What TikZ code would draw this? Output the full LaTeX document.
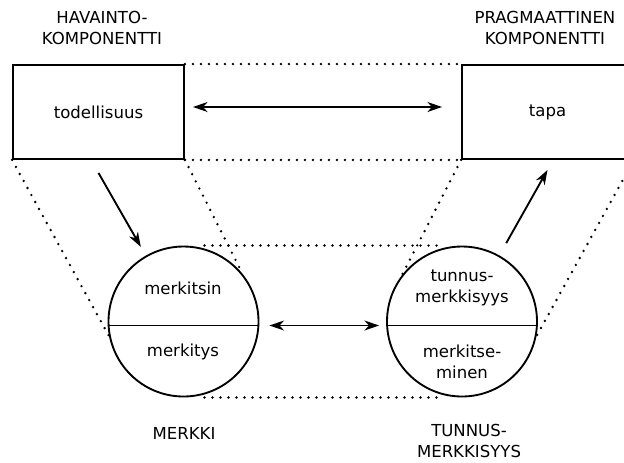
\documentclass[tikz,border=0pt]{standalone}
\usepackage{fontspec}
\setmainfont{DejaVu Sans}
\usetikzlibrary{arrows.meta,positioning}

\begin{document}
\begin{tikzpicture}[
    x=0.75pt, y=-0.75pt,
    font=\fontsize{12.4}{16.2}\selectfont,
    block/.style={rectangle, draw, line width=1.4pt, minimum width=128.25pt, minimum height=70.5pt, inner sep=0pt},
    disc/.style={circle, draw, line width=1.4pt, minimum size=112.5pt, inner sep=0pt},
    caption/.style={align=center, inner sep=0pt},
    arrow/.style={-{Stealth[length=11pt,width=7.5pt,inset=3.5pt]}, line width=1.4pt},
    twoway/.style={{Stealth[length=11pt,width=7.5pt,inset=3.5pt]}-{Stealth[length=11pt,width=7.5pt,inset=3.5pt]}, line width=1.4pt},
    dots/.style={line width=2pt, line cap=round, dash pattern=on 0pt off 6pt}
]
    \useasboundingbox (0,0) rectangle (624,462);

    % Nodes
    \node[block] (real) at (98.5,112) {todellisuus};
    \node[block] (way) at (547.5,112) {tapa};
    \node[disc] (sign) at (183.5,321.5) {};
    \node[disc] (token) at (462,321.5) {};
    \draw[line width=1.4pt] (sign.183) -- (sign.-3);
    \draw[line width=1.4pt] (token.183) -- (token.-3);

    \node[caption] (signtop) at (183,288) {merkitsin};
    \node[caption] (signbot) at (183,352) {merkitys};
    \node[caption] (tokentop) at (462,288) {tunnus-\\merkkisyys};
    \node[caption] (tokenbot) at (462,362) {merkitse-\\minen};

    % Labels
    \node[caption] (realcap) at (102,28) {HAVAINTO-\\KOMPONENTTI};
    \node[caption] (waycap) at (545,28) {PRAGMAATTINEN\\KOMPONENTTI};
    \node[caption] (signcap) at (184,433) {MERKKI};
    \node[caption] (tokencap) at (469,441) {TUNNUS-\\MERKKISYYS};

    % Dotted guides
    \draw[dots] (real.north east) -- (way.north west);
    \draw[dots] (real.south east) -- (way.south west);
    \draw[dots] (real.south west) -- (sign.191);
    \draw[dots] (real.south east) -- (sign.39);
    \draw[dots] (way.south west) -- (token.142);
    \draw[dots] (way.south east) -- (token.-11);
    \draw[dots] ([shift={(21,0)}]sign.north) -- ([shift={(-22,0)}]token.north);
    \draw[dots] ([shift={(21,0)}]sign.south) -- ([shift={(-22,0)}]token.south);

    % Arrows
    \draw[twoway] ([shift={(8,-5)}]real.east) -- ([shift={(-19,-5)}]way.west);
    \draw[twoway] ([shift={(10,4)}]sign.east) -- ([shift={(-7,4)}]token.west);
    \draw[arrow, shorten >=7.5pt] ([shift={(0,13)}]real.south) -- (sign);
    \draw[arrow, shorten <=10.5pt] (token) -- ([shift={(0,10)}]way.south);
\end{tikzpicture}
\end{document}
